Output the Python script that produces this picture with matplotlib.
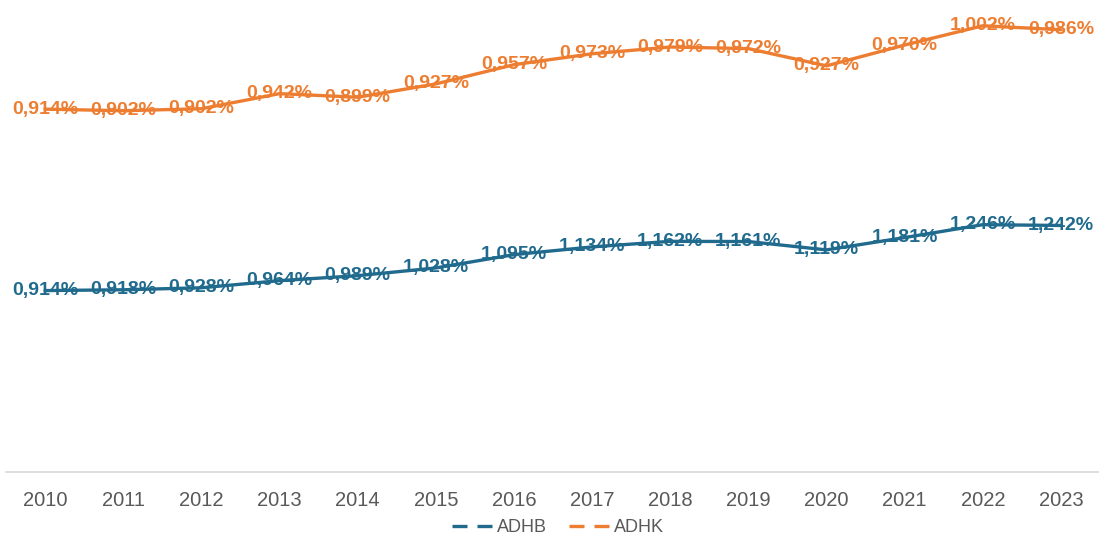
import matplotlib
matplotlib.use('Agg')
import matplotlib.pyplot as plt
from matplotlib.lines import Line2D
import numpy as np

years = ['2010', '2011', '2012', '2013', '2014', '2015', '2016',
         '2017', '2018', '2019', '2020', '2021', '2022', '2023']
adhb = [0.914, 0.918, 0.928, 0.964, 0.989, 1.028, 1.095,
        1.134, 1.162, 1.161, 1.119, 1.181, 1.246, 1.242]
adhk = [0.914, 0.902, 0.902, 0.942, 0.899, 0.927, 0.957,
        0.973, 0.979, 0.972, 0.927, 0.970, 1.002, 0.986]

blue = '#1F6A8D'
orange = '#ED7D31'
grey = '#595959'

plt.rcParams['font.family'] = ['Liberation Sans', 'DejaVu Sans']

fig = plt.figure(figsize=(10.99, 5.38), dpi=100)
ax = fig.add_axes([6 / 1099, 1 - 472 / 538, 1094 / 1099, 472 / 538])

x = np.arange(len(years))
# stacked lines: ADHK sits on top of ADHB
b = np.array(adhb)
k = b + np.array(adhk)

ax.plot(x, b, color=blue, lw=2.4, solid_capstyle='round', zorder=3)
ax.plot(x, k, color=orange, lw=2.4, solid_capstyle='round', zorder=3)

def fmt(v):
    return '{:.3f}'.format(v).replace('.', ',') + '%'

for i in range(len(years)):
    ax.text(x[i], b[i], fmt(adhb[i]), color=blue, fontsize=14, fontweight='bold',
            ha='center', va='center', zorder=2)
    ax.text(x[i], k[i], fmt(adhk[i]), color=orange, fontsize=14, fontweight='bold',
            ha='center', va='center', zorder=2)

ax.set_xlim(-0.5, len(years) - 0.5)
ax.set_ylim(0, 472 / 198.5)
ax.set_xticks(x)
ax.set_xticklabels(years, fontsize=14.5, color=grey)
ax.tick_params(axis='x', length=0, pad=14)
ax.set_yticks([])
for s in ['top', 'right', 'left']:
    ax.spines[s].set_visible(False)
ax.spines['bottom'].set_color('#D9D9D9')
ax.spines['bottom'].set_linewidth(1.2)

handles = [Line2D([], [], color=blue, lw=2.4, dashes=(4.5, 3)),
           Line2D([], [], color=orange, lw=2.4, dashes=(4.5, 3))]
leg = fig.legend(handles, ['ADHB', 'ADHK'], loc='center', bbox_to_anchor=(0.508, 1 - 528 / 538),
                 ncol=2, frameon=False, fontsize=13, handlelength=2.3, handletextpad=0.2,
                 columnspacing=1.2)
for t in leg.get_texts():
    t.set_color(grey)

fig.savefig('out.png', dpi=100)
